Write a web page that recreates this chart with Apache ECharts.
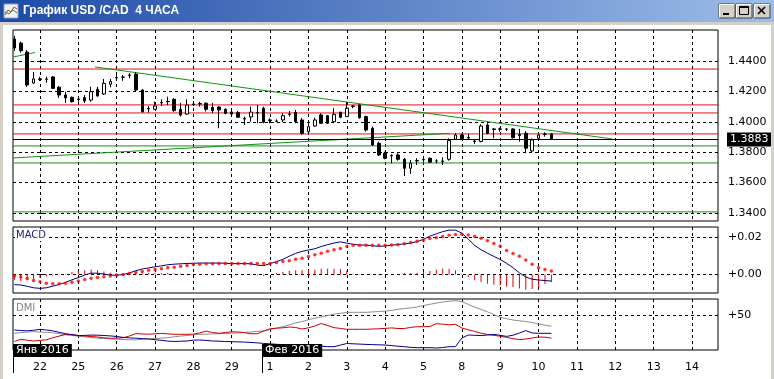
<!DOCTYPE html>
<html><head><meta charset="utf-8">
<script src="https://cdn.jsdelivr.net/npm/echarts@6/dist/echarts.min.js"></script>
<style>html,body{margin:0;padding:0;background:#fff;overflow:hidden}#c{width:774px;height:379px}</style>
</head><body><div id="c"></div><script>
// ---- data ----
const chartTitle = 'График USD /CAD  4 ЧАСА';
const dayLabels = ['22','25','26','27','28','29','1','2','3','4','5','8','9','10','11','12','13','14'];
const dayStarts = [0,6,12,18,24,30,36,42,48,54,60,66,72,78,84,90,96,102];
const firstSlot = -4; // first visible 4h bar, relative to 22 Jan 00:00
const candleOpen  = [1.4545,1.4518,1.4459,1.4255,1.4282,1.4282,1.4295,1.4227,1.4176,1.4161,1.4150,1.4159,1.4143,1.4214,1.4183,1.4247,1.4288,1.4295,1.4305,1.4314,1.4209,1.4084,1.4082,1.4124,1.4134,1.4148,1.4082,1.4051,1.4117,1.4117,1.4122,1.4095,1.4097,1.4082,1.4064,1.4060,1.4022,1.4032,1.4058,1.4089,1.4012,1.4005,1.4012,1.4048,1.4062,1.4012,1.3935,1.3972,1.4045,1.4040,1.4001,1.4062,1.4034,1.4104,1.4110,1.4034,1.3957,1.3858,1.3793,1.3778,1.3782,1.3753,1.3694,1.3742,1.3749,1.3760,1.3742,1.3739,1.3753,1.3885,1.3913,1.3897,1.3874,1.3870,1.3979,1.3953,1.3953,1.3951,1.3953,1.3916,1.3924,1.3808,1.3891,1.3916,1.3920];
const candleClose = [1.4486,1.4468,1.4242,1.4282,1.4279,1.4280,1.4220,1.4176,1.4157,1.4132,1.4147,1.4137,1.4198,1.4170,1.4253,1.4264,1.4291,1.4293,1.4308,1.4209,1.4066,1.4088,1.4104,1.4127,1.4132,1.4073,1.4045,1.4110,1.4114,1.4120,1.4082,1.4073,1.4078,1.4056,1.4051,1.4030,1.4018,1.4064,1.4061,1.3997,1.4009,1.4004,1.4040,1.4051,1.4001,1.3924,1.3968,1.4012,1.3990,1.3990,1.4049,1.4030,1.4089,1.4102,1.4027,1.3946,1.3847,1.3782,1.3760,1.3775,1.3753,1.3694,1.3727,1.3745,1.3752,1.3734,1.3742,1.3742,1.3877,1.3913,1.3887,1.3893,1.3870,1.3972,1.3924,1.3949,1.3951,1.3953,1.3895,1.3910,1.3826,1.3880,1.3913,1.3920,1.3883];
const candleLow   = [1.4466,1.4455,1.4229,1.4249,1.4268,1.4257,1.4216,1.4157,1.4124,1.4127,1.4132,1.4124,1.4132,1.4165,1.4176,1.4227,1.4275,1.4270,1.4286,1.4203,1.4060,1.4060,1.4078,1.4104,1.4110,1.4066,1.4034,1.4045,1.4104,1.4100,1.4068,1.4058,1.3957,1.4049,1.4038,1.4025,1.3979,1.4001,1.3990,1.3990,1.3990,1.3997,1.3997,1.4034,1.3990,1.3913,1.3926,1.3968,1.3988,1.3986,1.3990,1.4023,1.4032,1.4089,1.4020,1.3935,1.3841,1.3775,1.3753,1.3727,1.3744,1.3643,1.3657,1.3716,1.3736,1.3731,1.3727,1.3716,1.3744,1.3880,1.3880,1.3887,1.3854,1.3865,1.3918,1.3891,1.3935,1.3939,1.3891,1.3869,1.3793,1.3801,1.3878,1.3902,1.3880];
const candleHigh  = [1.4564,1.4527,1.4472,1.4328,1.4295,1.4297,1.4301,1.4236,1.4198,1.4166,1.4170,1.4176,1.4231,1.4231,1.4282,1.4282,1.4321,1.4308,1.4319,1.4328,1.4216,1.4104,1.4132,1.4148,1.4165,1.4155,1.4124,1.4148,1.4137,1.4132,1.4128,1.4124,1.4104,1.4089,1.4078,1.4071,1.4034,1.4099,1.4110,1.4099,1.4023,1.4016,1.4056,1.4071,1.4078,1.4025,1.4001,1.4027,1.4056,1.4045,1.4089,1.4067,1.4128,1.4110,1.4114,1.4040,1.3968,1.3869,1.3803,1.3786,1.3793,1.3762,1.3749,1.3760,1.3762,1.3765,1.3753,1.3766,1.3891,1.3924,1.3920,1.3920,1.3887,1.3984,1.3990,1.3959,1.3961,1.3957,1.3957,1.3953,1.3939,1.3891,1.3918,1.3931,1.3926];
const macdMain   = [-0.0055,-0.0057,-0.0064,-0.0072,-0.0075,-0.0072,-0.0063,-0.0054,-0.0043,-0.0029,-0.0017,-0.0003,0.0007,0.0006,0.0002,-0.0004,-0.0004,-0.0001,0.0008,0.0020,0.0029,0.0035,0.0041,0.0046,0.0052,0.0055,0.0057,0.0059,0.0060,0.0061,0.0061,0.0061,0.0061,0.0060,0.0058,0.0058,0.0058,0.0057,0.0050,0.0047,0.0058,0.0069,0.0081,0.0098,0.0113,0.0124,0.0131,0.0138,0.0150,0.0160,0.0169,0.0175,0.0168,0.0162,0.0158,0.0158,0.0154,0.0151,0.0153,0.0157,0.0161,0.0164,0.0169,0.0176,0.0189,0.0206,0.0218,0.0230,0.0238,0.0238,0.0222,0.0190,0.0156,0.0133,0.0114,0.0097,0.0080,0.0060,0.0036,0.0008,-0.0014,-0.0026,-0.0030,-0.0033,-0.0036];
const macdSignal = [-0.0008,-0.0014,-0.0022,-0.0033,-0.0040,-0.0047,-0.0050,-0.0050,-0.0047,-0.0042,-0.0036,-0.0027,-0.0021,-0.0016,-0.0012,-0.0008,-0.0004,-0.0001,0.0005,0.0010,0.0015,0.0022,0.0027,0.0031,0.0036,0.0039,0.0044,0.0048,0.0053,0.0055,0.0057,0.0058,0.0059,0.0059,0.0059,0.0059,0.0059,0.0059,0.0059,0.0059,0.0059,0.0064,0.0069,0.0074,0.0081,0.0087,0.0096,0.0106,0.0114,0.0124,0.0132,0.0139,0.0150,0.0157,0.0157,0.0157,0.0157,0.0157,0.0157,0.0158,0.0160,0.0165,0.0172,0.0179,0.0185,0.0193,0.0197,0.0204,0.0211,0.0215,0.0216,0.0212,0.0204,0.0195,0.0181,0.0166,0.0152,0.0128,0.0112,0.0097,0.0077,0.0054,0.0036,0.0027,0.0018];
const macdHist   = [-0.0029,-0.0036,-0.0032,-0.0025,-0.0018,-0.0011,-0.0006,-0.0002,0.0004,0.0013,0.0018,0.0023,0.0026,0.0022,0.0016,0.0009,0.0004,0.0004,0.0005,0.0007,0.0009,0.0009,0.0009,0.0008,0.0007,0.0006,0.0005,0.0004,0.0003,0.0002,0.0002,0.0001,0.0001,0.0001,0.0000,0.0000,-0.0001,-0.0002,-0.0006,-0.0008,0.0000,0.0007,0.0013,0.0020,0.0022,0.0022,0.0022,0.0025,0.0030,0.0031,0.0031,0.0029,0.0020,0.0004,0.0002,0.0001,-0.0001,-0.0003,-0.0002,0.0000,0.0002,0.0007,0.0008,0.0009,0.0013,0.0018,0.0025,0.0031,0.0031,0.0022,0.0004,-0.0014,-0.0032,-0.0041,-0.0050,-0.0056,-0.0059,-0.0066,-0.0068,-0.0076,-0.0083,-0.0079,-0.0068,-0.0052,-0.0041];
const dmiAdx   = [31.8,32.4,32.9,33.3,33.0,32.6,32.3,31.3,30.2,29.5,28.8,28.1,27.6,26.9,26.5,26.2,25.8,25.5,25.2,25.2,25.7,26.1,26.5,26.9,27.4,28.2,28.9,29.5,30.2,30.7,30.9,31.1,31.3,31.5,31.7,32.1,32.6,33.0,33.6,34.1,35.5,36.9,38.3,40.1,42.0,43.5,45.3,46.8,48.2,49.5,50.8,51.7,52.6,52.7,52.7,52.7,53.1,53.5,53.9,54.6,55.7,56.4,57.1,58.1,59.4,60.7,61.9,63.0,63.7,64.3,63.4,60.6,57.9,55.6,53.2,50.3,47.7,46.3,45.0,44.2,43.5,42.5,41.0,39.8,38.8];
const dmiPlus  = [23.5,25.8,24.8,24.0,24.6,25.2,27.2,28.9,30.5,30.4,29.5,29.0,28.5,28.0,27.2,26.7,26.9,27.2,29.0,31.4,31.0,30.8,31.2,31.6,31.1,30.7,30.7,30.7,30.8,32.1,33.8,32.5,31.7,32.5,33.2,33.0,32.4,31.2,31.3,34.0,36.2,36.8,37.2,38.0,37.5,36.0,37.2,39.0,41.5,39.5,37.3,36.6,35.7,35.7,35.7,35.7,36.0,36.2,36.6,37.1,36.5,36.5,37.6,38.3,38.3,38.5,41.3,40.8,40.2,40.7,37.0,35.2,33.7,31.8,30.5,29.6,28.8,27.6,26.3,25.4,26.0,27.0,28.0,27.8,26.8];
const dmiMinus = [35.0,34.5,34.2,34.7,35.7,35.0,34.2,32.7,31.3,30.3,29.4,29.6,29.9,29.8,29.5,29.1,28.5,27.6,27.1,26.8,26.4,26.0,25.3,24.7,23.9,23.5,23.8,24.0,24.9,25.0,24.6,24.0,23.8,23.5,23.3,23.1,22.9,22.6,22.1,21.6,21.2,20.7,20.4,20.1,19.9,19.6,19.4,19.1,18.8,18.4,18.3,19.9,21.5,21.2,20.9,20.6,20.4,20.2,20.0,19.4,18.8,18.3,17.6,17.3,17.3,17.3,17.0,17.5,18.3,18.3,27.0,30.0,29.7,29.4,30.0,30.6,29.7,28.6,29.8,32.0,34.4,32.0,31.7,31.7,31.7];
const priceTicks = [1.34,1.36,1.38,1.40,1.42,1.44];
const macdTicks = [0, 0.02];
const dmiTicks = [50];
const lastPrice = 1.3883;
const redLevels = [1.4347, 1.4111, 1.4058, 1.3920];
const greenLevels = [1.3841, 1.3729, 1.3407];
const trendLines = [
  [[8.6, 1.4361], [89.5, 1.3887]],
  [[-4.22, 1.3762], [64.1, 1.3924]],
  [[-4.22, 1.4426], [-0.78, 1.4456]]
];
const monthMarks = [['Янв 2016', -4.22], ['Фев 2016', 34.75]];
const xRange = [-4.22, 106.07];

// ---- chart ----
const FONT = 'DejaVu Sans';
const chart = echarts.init(document.getElementById('c'), null, {renderer: 'canvas'});
const slot = i => i + firstSlot;
const dash = {color: '#000', type: [3, 3], width: 1};
const grids = [
  {left: 13, right: 56, top: 30, height: 191},
  {left: 13, right: 56, top: 227, height: 66},
  {left: 13, right: 56, top: 299, height: 51}
].map(g => Object.assign(g, {show: true, borderColor: '#000', borderWidth: 1, backgroundColor: '#fff', containLabel: false}));

const xAxes = [0, 1, 2].map(gi => ({
  type: 'value', gridIndex: gi, min: xRange[0], max: xRange[1],
  axisLine: {show: false},
  axisTick: {show: false, customValues: dayStarts},
  splitLine: {show: true, lineStyle: dash},
  axisLabel: {
    show: gi === 2, customValues: dayStarts, margin: 12,
    color: '#000', fontSize: 11, fontFamily: FONT,
    formatter: v => dayLabels[dayStarts.indexOf(v)] || ''
  }
}));

function yAx(gi, min, max, ticks, fmt) {
  return {
    type: 'value', gridIndex: gi, position: 'right', min: min, max: max, scale: true,
    axisLine: {show: false},
    axisTick: {show: true, customValues: ticks, length: 4, lineStyle: {color: '#000'}},
    splitLine: {show: true, lineStyle: dash},
    axisLabel: {customValues: ticks, margin: 10, color: '#000', fontSize: 11, fontFamily: FONT, formatter: fmt}
  };
}
const yAxes = [
  yAx(0, 1.3347, 1.4604, priceTicks, v => v.toFixed(4)),
  yAx(1, -0.0100, 0.0255, macdTicks, v => (v >= 0 ? '+' : '') + v.toFixed(2)),
  yAx(2, 15, 66, dmiTicks, v => '+' + v.toFixed(0))
];

const RED = '#e41414', GREEN = '#139313';
function segSeries(points, color) {
  return {
    type: 'line', xAxisIndex: 0, yAxisIndex: 0, showSymbol: false, silent: true, z: 2,
    data: points, lineStyle: {color: color, width: 1, type: 'solid'}, emphasis: {disabled: true}
  };
}
const series = [];
redLevels.forEach(v => series.push(segSeries([[xRange[0], v], [xRange[1], v]], RED)));
greenLevels.forEach(v => series.push(segSeries([[xRange[0], v], [xRange[1], v]], GREEN)));
trendLines.forEach(t => series.push(segSeries([t[0], t[1]], GREEN)));
series.push(
  {
    type: 'candlestick', xAxisIndex: 0, yAxisIndex: 0, barWidth: 3, z: 5,
    data: candleOpen.map((o, i) => [slot(i), o, candleClose[i], candleLow[i], candleHigh[i]]),
    itemStyle: {color: '#fff', color0: '#000', borderColor: '#000', borderColor0: '#000', borderWidth: 1},
    markLine: {silent: true, symbol: ['none', 'none'], animation: false, z: 3, precision: 4,
      label: {show: false}, emphasis: {disabled: true},
      data: [{yAxis: lastPrice, lineStyle: {color: '#000', type: 'solid', width: 1},
        label: {show: true, position: 'end', distance: 9, formatter: lastPrice.toFixed(4), color: '#fff',
          backgroundColor: '#000', padding: [2, 3, 1, 3], fontSize: 11, fontFamily: FONT}}]}
  },
  {
    type: 'bar', xAxisIndex: 1, yAxisIndex: 1, barWidth: 1, z: 3,
    data: macdHist.map((v, i) => [slot(i), v]), itemStyle: {color: '#e00000'}
  },
  {
    type: 'line', xAxisIndex: 1, yAxisIndex: 1, showSymbol: false, z: 4,
    data: macdMain.map((v, i) => [slot(i), v]), lineStyle: {color: '#000080', width: 1}
  },
  {
    type: 'scatter', xAxisIndex: 1, yAxisIndex: 1, symbol: 'circle', symbolSize: 3.5, z: 5,
    data: macdSignal.map((v, i) => [slot(i), v]), itemStyle: {color: '#ff0000'}
  },
  {
    type: 'line', xAxisIndex: 2, yAxisIndex: 2, showSymbol: false,
    data: dmiAdx.map((v, i) => [slot(i), v]), lineStyle: {color: '#8c8c8c', width: 1}
  },
  {
    type: 'line', xAxisIndex: 2, yAxisIndex: 2, showSymbol: false,
    data: dmiPlus.map((v, i) => [slot(i), v]), lineStyle: {color: '#d00000', width: 1}
  },
  {
    type: 'line', xAxisIndex: 2, yAxisIndex: 2, showSymbol: false,
    data: dmiMinus.map((v, i) => [slot(i), v]), lineStyle: {color: '#000090', width: 1}
  }
);

chart.setOption({
  animation: false,
  backgroundColor: '#fff',
  textStyle: {fontFamily: FONT},
  grid: grids, xAxis: xAxes, yAxis: yAxes, series: series
});

// ---- window chrome & panel labels ----
const g = [];
g.push({type: 'rect', shape: {x: 0, y: 0, width: 774, height: 22}, z: 50,
  style: {fill: new echarts.graphic.LinearGradient(0, 0, 1, 0, [{offset: 0, color: '#1d4aa6'}, {offset: 1, color: '#9dbde9'}])}});
g.push({type: 'rect', shape: {x: 0, y: 22, width: 774, height: 3}, z: 50, style: {fill: '#d4d0c8'}});
g.push({type: 'rect', shape: {x: 0, y: 22, width: 3, height: 357}, z: 50, style: {fill: '#d4d0c8'}});
g.push({type: 'rect', shape: {x: 771, y: 22, width: 3, height: 357}, z: 50, style: {fill: '#d4d0c8'}});
// icon
g.push({type: 'rect', shape: {x: 4, y: 4, width: 14, height: 14}, z: 51, style: {fill: '#eef0f6', stroke: '#8aa0c8'}});
g.push({type: 'polyline', shape: {points: [[5, 15], [8, 10], [11, 12], [14, 7], [17, 9]]}, z: 52, style: {stroke: '#d03030', lineWidth: 1, fill: null}});
g.push({type: 'polyline', shape: {points: [[5, 12], [9, 14], [13, 10], [17, 13]]}, z: 52, style: {stroke: '#3a8a3a', lineWidth: 1, fill: null}});
g.push({type: 'text', x: 23, y: 11, z: 52, style: {text: chartTitle, fill: '#fff', font: 'bold 12px "Liberation Sans"', verticalAlign: 'middle'}});
// buttons
[719, 736, 754].forEach((bx, k) => {
  g.push({type: 'rect', shape: {x: bx, y: 4, width: 16, height: 14}, z: 52,
    style: {fill: '#d4d0c8', stroke: '#404040', lineWidth: 1}});
  g.push({type: 'polyline', shape: {points: [[bx + 0.5, 17.5], [bx + 0.5, 4.5], [bx + 15.5, 4.5]]}, z: 53, style: {stroke: '#fff', fill: null}});
  if (k === 0) g.push({type: 'rect', shape: {x: bx + 4, y: 13, width: 6, height: 2}, z: 53, style: {fill: '#000'}});
  if (k === 1) {
    g.push({type: 'rect', shape: {x: bx + 3.5, y: 6.5, width: 9, height: 8}, z: 53, style: {fill: null, stroke: '#000'}});
    g.push({type: 'rect', shape: {x: bx + 3.5, y: 6.5, width: 9, height: 1.5}, z: 53, style: {fill: '#000'}});
  }
  if (k === 2) {
    g.push({type: 'line', shape: {x1: bx + 4, y1: 7, x2: bx + 11, y2: 14}, z: 53, style: {stroke: '#000', lineWidth: 1.6}});
    g.push({type: 'line', shape: {x1: bx + 11, y1: 7, x2: bx + 4, y2: 14}, z: 53, style: {stroke: '#000', lineWidth: 1.6}});
  }
});
// panel captions
g.push({type: 'text', x: 15, y: 229, z: 60, style: {text: 'MACD', fill: '#1a1a80', font: '10px "DejaVu Sans"', backgroundColor: '#fff', padding: [1, 1, 1, 1]}});
g.push({type: 'text', x: 15, y: 302, z: 60, style: {text: 'DMI', fill: '#808080', font: '10px "DejaVu Sans"', backgroundColor: '#fff', padding: [1, 1, 1, 1]}});
// month markers
monthMarks.forEach(m => {
  const px = Math.round(chart.convertToPixel({xAxisIndex: 2}, m[1]));
  g.push({type: 'line', shape: {x1: px + 0.5, y1: 344, x2: px + 0.5, y2: 373}, z: 60, style: {stroke: '#000', lineWidth: 1}});
  g.push({type: 'text', x: px, y: 344, z: 61, style: {text: m[0], fill: '#fff', font: '11px "DejaVu Sans"',
    backgroundColor: '#000', padding: [1, 3, 1, 3]}});
});
chart.setOption({graphic: {elements: g}});
</script></body></html>
